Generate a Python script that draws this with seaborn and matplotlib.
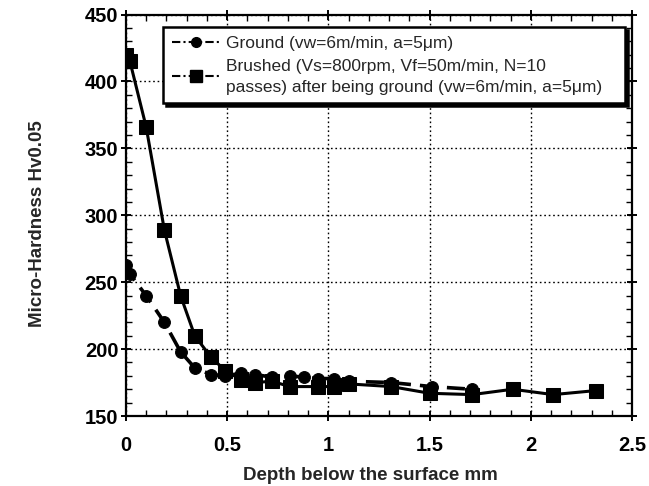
import matplotlib
matplotlib.use("Agg")
import matplotlib.pyplot as plt
import seaborn as sns
import pandas as pd
from matplotlib.lines import Line2D
from matplotlib.ticker import MultipleLocator

# Data
ground_depth = [0.0, 0.02, 0.10, 0.19, 0.27, 0.34, 0.42, 0.49, 0.57, 0.64,
                0.72, 0.81, 0.88, 0.95, 1.03, 1.10, 1.31, 1.51, 1.71]
ground_hv = [263, 256, 240, 220, 198, 186, 181, 180, 182, 181,
             179, 180, 179, 178, 178, 176, 175, 172, 170]

brushed_depth = [0.0, 0.02, 0.10, 0.19, 0.27, 0.34, 0.42, 0.49, 0.57, 0.64,
                 0.72, 0.81, 0.95, 1.03, 1.10, 1.31, 1.50, 1.71, 1.91, 2.11, 2.32]
brushed_hv = [420, 415, 366, 289, 240, 210, 194, 184, 177, 175,
              176, 172, 172, 172, 174, 172, 167, 166, 170, 166, 169]

x_ticks = [0, 0.5, 1, 1.5, 2, 2.5]
x_tick_labels = ["0", "0.5", "1", "1.5", "2", "2.5"]

label_ground = "Ground (vw=6m/min, a=5\u03bcm)"
label_brushed = ("Brushed (Vs=800rpm, Vf=50m/min, N=10\n"
                 "passes) after being ground (vw=6m/min, a=5\u03bcm)")
x_label = "Depth below the surface mm"
y_label = "Micro-Hardness Hv0.05"

sns.set_theme(style="white")
plt.rcParams['font.family'] = ['Liberation Sans', 'DejaVu Sans']

df_g = pd.DataFrame({"depth": ground_depth, "hv": ground_hv})
df_b = pd.DataFrame({"depth": brushed_depth, "hv": brushed_hv})

fig = plt.figure(figsize=(6.49, 4.86), dpi=100)
ax = fig.add_axes([0.194, 0.144, 0.780, 0.826])

sns.lineplot(data=df_g, x="depth", y="hv", ax=ax, sort=False, estimator=None,
             color="black", linewidth=2.6, linestyle=(0, (5, 2.5)),
             marker="o", markersize=8.5, markeredgecolor="black", zorder=3)
sns.lineplot(data=df_b, x="depth", y="hv", ax=ax, sort=False, estimator=None,
             color="black", linewidth=2.2, linestyle="-",
             marker="s", markersize=9.5, markeredgecolor="black", zorder=4)

ax.set_xlim(0, 2.5)
ax.set_ylim(150, 450)
ax.xaxis.set_minor_locator(MultipleLocator(0.1))
ax.yaxis.set_major_locator(MultipleLocator(50))
ax.yaxis.set_minor_locator(MultipleLocator(10))
ax.set_xticks(x_ticks)
ax.set_xticklabels(x_tick_labels)

ax.grid(True, which="major", color="black", linestyle=(0, (1.2, 2)), linewidth=1.0)
for s in ax.spines.values():
    s.set_color("black")
    s.set_linewidth(1.6)

ax.tick_params(which="both", direction="in", top=True, right=True, bottom=True, left=True,
               colors="black")
ax.tick_params(which="major", direction="inout", length=7, width=1.4, labelsize=14.5)
ax.tick_params(axis="x", which="major", pad=11)
ax.tick_params(axis="y", which="major", pad=2)
ax.tick_params(which="minor", length=4, width=1.0)
for lab in ax.get_xticklabels() + ax.get_yticklabels():
    lab.set_fontweight("bold")

ax.set_xlabel(x_label, fontsize=13.5, fontweight="bold")
ax.set_ylabel(y_label, fontsize=13.5, fontweight="bold")
ax.xaxis.set_label_coords(0.482, -0.128)
ax.yaxis.set_label_coords(-0.158, 0.48)

handles = [
    Line2D([], [], color="black", linewidth=1.5, linestyle=(0, (4, 1.5, 1, 1.5)),
           marker="o", markersize=7),
    Line2D([], [], color="black", linewidth=1.5, linestyle=(0, (4, 1.5, 1, 1.5)),
           marker="s", markersize=8),
]
leg = ax.legend(handles, [label_ground, label_brushed + "   "], loc="upper right",
                bbox_to_anchor=(0.986, 0.968), borderaxespad=0.0, fontsize=12.5,
                frameon=True, fancybox=False, shadow={'color': 'black', 'alpha': 1.0},
                handlelength=2.8, handletextpad=0.3, borderpad=0.5,
                labelspacing=0.42, edgecolor="black", framealpha=1.0)
for t in leg.get_texts():
    t.set_linespacing(1.5)
leg.get_frame().set_linewidth(1.8)
leg.set_zorder(10)

fig.savefig("out.png", dpi=100)
